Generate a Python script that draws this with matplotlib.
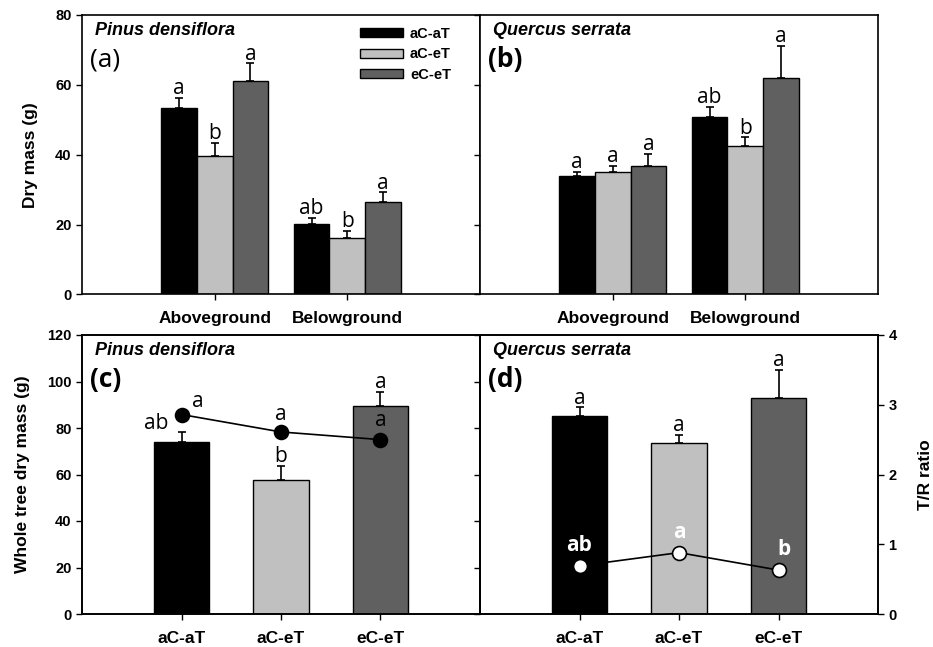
import matplotlib
matplotlib.use("Agg")
import matplotlib.pyplot as plt
import numpy as np
from matplotlib.patches import Patch

treatments = ["aC-aT", "aC-eT", "eC-eT"]
parts = ["Aboveground", "Belowground"]
colors = ["#000000", "#c0c0c0", "#606060"]

# (a) Pinus densiflora dry mass: rows = treatments, cols = parts
pd_mass = [[53.3, 20.2], [39.6, 16.3], [61.2, 26.4]]
pd_mass_err = [[3.0, 1.8], [3.9, 2.0], [5.0, 2.8]]
pd_mass_let = [["a", "ab"], ["b", "b"], ["a", "a"]]

# (b) Quercus serrata dry mass
qs_mass = [[34.0, 50.9], [35.0, 42.6], [36.8, 61.9]]
qs_mass_err = [[1.1, 2.9], [1.8, 2.4], [3.4, 9.3]]
qs_mass_let = [["a", "ab"], ["a", "b"], ["a", "a"]]

# (c) Pinus whole tree
pd_whole = [74.1, 57.6, 89.5]
pd_whole_err = [4.3, 6.1, 6.1]
pd_whole_let = ["ab", "b", "a"]
pd_tr = [2.86, 2.61, 2.50]
pd_tr_let = ["a", "a", "a"]

# (d) Quercus whole tree
qs_whole = [85.3, 73.7, 93.0]
qs_whole_err = [3.6, 3.3, 11.9]
qs_whole_let = ["a", "a", "a"]
qs_tr = [0.69, 0.88, 0.63]
qs_tr_let = ["ab", "a", "b"]

LET_FONT = ["Open Sans", "DejaVu Sans"]
TICK_FONT = "Liberation Sans"
LET_SIZE = 15

fig = plt.figure(figsize=(9.33, 6.47), dpi=100)
W, H = 933, 647
def box(x0, y0, x1, y1):
    return [x0 / W, 1 - y1 / H, (x1 - x0) / W, (y1 - y0) / H]

axA = fig.add_axes(box(82, 15, 480, 294.5))
axB = fig.add_axes(box(480, 15, 878, 294.5))
axC = fig.add_axes(box(82, 335, 480, 614))
axD = fig.add_axes(box(480, 335, 878, 614))

def style(ax, showy):
    for s in ax.spines.values():
        s.set_linewidth(1.2)
    ax.tick_params(axis="both", direction="out", length=4, width=1.0,
                   labelsize=10.5)
    if not showy:
        ax.tick_params(axis="y", labelleft=False)
    for lab in ax.get_xticklabels() + ax.get_yticklabels():
        lab.set_fontweight("bold")
        lab.set_family(TICK_FONT)

def grouped(ax, vals, errs, lets, showy):
    vals = np.array(vals); errs = np.array(errs)
    pos = np.arange(1, len(parts) + 1)
    w = 0.27
    for i in range(len(treatments)):
        x = pos + (i - 1) * w
        ax.bar(x, vals[i], w, color=colors[i], edgecolor="black", linewidth=1.0,
               label=treatments[i], zorder=2)
        ax.errorbar(x, vals[i], yerr=[np.zeros_like(errs[i]), errs[i]], fmt="none",
                    ecolor="black", elinewidth=1.2, capsize=3, capthick=1.2, zorder=1)
        for xx, v, e, l in zip(x, vals[i], errs[i], lets[i]):
            ax.annotate(l, (xx, v + e), xytext=(0, -1), textcoords="offset points",
                        ha="center", va="bottom", fontsize=LET_SIZE, family=LET_FONT)
    ax.set_xlim(0, 3)
    ax.set_ylim(0, 80)
    ax.set_yticks([0, 20, 40, 60, 80])
    ax.set_xticks(pos)
    ax.set_xticklabels(parts)
    ax.tick_params(axis="x", pad=8)
    style(ax, showy)
    for lab in ax.get_xticklabels():
        lab.set_fontsize(12.5)

grouped(axA, pd_mass, pd_mass_err, pd_mass_let, True)
grouped(axB, qs_mass, qs_mass_err, qs_mass_let, False)
axA.set_ylabel("Dry mass (g)", fontsize=12.5, fontweight="bold", family=TICK_FONT, labelpad=12)

handles = [Patch(facecolor=c, edgecolor="black", linewidth=1.0) for c in colors]
leg = axA.legend(handles, treatments, loc="upper right", bbox_to_anchor=(0.96, 1.005),
                 frameon=False, handlelength=2.9, handleheight=0.6, labelspacing=0.45,
                 handletextpad=0.5, prop={"family": TICK_FONT, "weight": "bold", "size": 10.5})

def whole(ax, vals, errs, tr, filled, showy, showr):
    x = np.arange(1, len(treatments) + 1)
    w = 0.56
    ax.bar(x, vals, w, color=colors, edgecolor="black", linewidth=1.0, zorder=2)
    ax.errorbar(x, vals, yerr=[np.zeros(len(errs)), errs], fmt="none",
                ecolor="black", elinewidth=1.2, capsize=3, capthick=1.2, zorder=1)
    ax.set_xlim(0, 4)
    ax.set_ylim(0, 120)
    ax.set_yticks(range(0, 121, 20))
    ax.set_xticks(x)
    ax.set_xticklabels(treatments)
    ax.tick_params(axis="x", pad=8)
    style(ax, showy)
    for lab in ax.get_xticklabels():
        lab.set_fontsize(12.5)
    ax2 = ax.twinx()
    ax2.set_ylim(0, 4)
    ax2.set_yticks(range(0, 5))
    ax2.plot(x, tr, color="black", linewidth=1.2, zorder=3,
             marker="o", markersize=10,
             markerfacecolor="black" if filled else "white",
             markeredgecolor="black", markeredgewidth=1.2)
    ax2.tick_params(axis="y", direction="out", length=4 if showr else 0, width=1.0,
                    labelsize=10.5, labelright=showr)
    for lab in ax2.get_yticklabels():
        lab.set_fontweight("bold"); lab.set_family(TICK_FONT)
    for s in ax2.spines.values():
        s.set_linewidth(1.2)
    return ax2, x

axC2, xc = whole(axC, pd_whole, pd_whole_err, pd_tr, True, True, False)
axD2, xd = whole(axD, qs_whole, qs_whole_err, qs_tr, False, False, True)
axC.set_ylabel("Whole tree dry mass (g)", fontsize=12.5, fontweight="bold", family=TICK_FONT, labelpad=12)
axD2.set_ylabel("T/R ratio", fontsize=12.5, fontweight="bold", family=TICK_FONT, labelpad=15)

# (c) bar letters
offs_c = [(-18, -2), (0, -1), (0, -1)]
for xx, v, e, l, o in zip(xc, pd_whole, pd_whole_err, pd_whole_let, offs_c):
    axC.annotate(l, (xx, v + e), xytext=o, textcoords="offset points",
                 ha="center", va="bottom", fontsize=LET_SIZE, family=LET_FONT, zorder=5)
tr_offs_c = [(12, 2), (0, 5), (0, 6)]
for xx, v, l, o in zip(xc, pd_tr, pd_tr_let, tr_offs_c):
    axC2.annotate(l, (xx, v), xytext=o, textcoords="offset points",
                  ha="center", va="bottom", fontsize=LET_SIZE, family=LET_FONT, zorder=5)
# (d)
for xx, v, e, l in zip(xd, qs_whole, qs_whole_err, qs_whole_let):
    axD.annotate(l, (xx, v + e), xytext=(0, -1), textcoords="offset points",
                 ha="center", va="bottom", fontsize=LET_SIZE, family=LET_FONT, zorder=5)
tr_offs_d = [(0, 7), (0, 7), (4, 7)]
for xx, v, l, o in zip(xd, qs_tr, qs_tr_let, tr_offs_d):
    axD2.annotate(l, (xx, v), xytext=o, textcoords="offset points",
                  ha="center", va="bottom", fontsize=LET_SIZE, family=LET_FONT,
                  color="white", fontweight="bold", zorder=5)

# species names and panel labels
for ax, sp, pl, pw in [(axA, "Pinus densiflora", "(a)", "normal"),
                       (axB, "Quercus serrata", "(b)", "bold"),
                       (axC, "Pinus densiflora", "(c)", "bold"),
                       (axD, "Quercus serrata", "(d)", "bold")]:
    ax.text(0.033, 0.945, sp, transform=ax.transAxes, fontsize=13,
            fontweight="bold", fontstyle="italic", family=TICK_FONT, va="center", ha="left")
    ax.text(0.02, 0.84, pl, transform=ax.transAxes, fontsize=19,
            fontweight=pw, family=LET_FONT, va="center", ha="left")

fig.savefig("out.png", dpi=100)
